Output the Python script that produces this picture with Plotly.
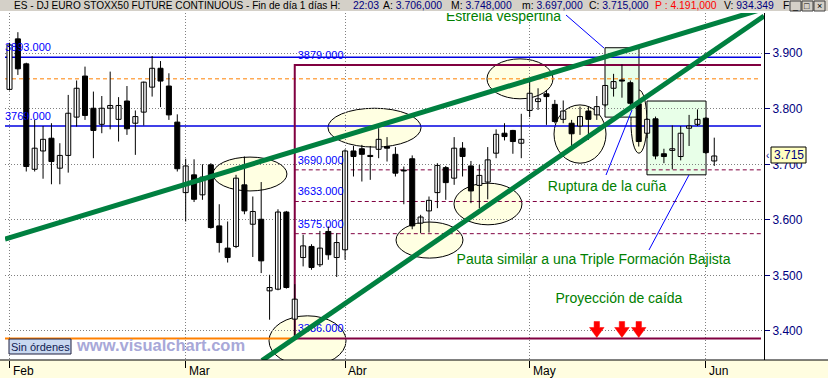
import plotly.graph_objects as go
import pandas as pd

# ---------------- data ----------------
holidays = ["2008-03-21", "2008-03-24", "2008-05-01"]
dates = [d for d in pd.bdate_range("2008-02-01", "2008-06-03")
         if d.strftime("%Y-%m-%d") not in holidays]
month_names = {2: "Feb", 3: "Mar", 4: "Abr", 5: "May", 6: "Jun"}

opens = [3835, 3926, 3881, 3691, 3724, 3747, 3693, 3716, 3785, 3859,
         3801, 3772, 3801, 3781, 3814, 3774, 3794, 3839, 3873, 3841,
         3776, 3649, 3681, 3645, 3699, 3589, 3549, 3552, 3663, 3592,
         3601, 3472, 3475, 3614, 3421, 3532, 3552, 3519, 3579, 3532,
         3546, 3724, 3728, 3716, 3727, 3732, 3718, 3689, 3710, 3594,
         3616, 3649, 3694, 3675, 3729, 3697, 3662, 3668, 3720, 3756,
         3761, 3738, 3797, 3813, 3827, 3808, 3781, 3774, 3769, 3796,
         3789, 3807, 3837, 3852, 3847, 3809, 3756, 3782, 3719, 3725,
         3714, 3765, 3772, 3783, 3706]
highs = [3919, 3938, 3883, 3780, 3769, 3774, 3738, 3825, 3851, 3876,
         3831, 3823, 3867, 3821, 3841, 3797, 3849, 3895, 3886, 3864,
         3790, 3710, 3709, 3700, 3702, 3628, 3597, 3681, 3714, 3642,
         3668, 3501, 3619, 3616, 3484, 3573, 3556, 3580, 3588, 3576,
         3727, 3733, 3735, 3733, 3765, 3749, 3731, 3696, 3716, 3609,
         3642, 3702, 3697, 3749, 3740, 3706, 3699, 3731, 3763, 3774,
         3762, 3791, 3853, 3837, 3834, 3816, 3815, 3780, 3804, 3804,
         3823, 3843, 3863, 3880, 3851, 3811, 3783, 3786, 3728, 3770,
         3769, 3789, 3799, 3785, 3748]
lows = [3833, 3861, 3687, 3687, 3674, 3664, 3664, 3685, 3768, 3780,
        3711, 3756, 3763, 3741, 3753, 3717, 3770, 3822, 3803, 3780,
        3687, 3597, 3632, 3636, 3584, 3541, 3523, 3549, 3610, 3533,
        3504, 3420, 3473, 3476, 3386, 3516, 3510, 3515, 3528, 3497,
        3528, 3678, 3669, 3672, 3711, 3705, 3678, 3628, 3583, 3576,
        3577, 3621, 3636, 3663, 3678, 3630, 3621, 3637, 3711, 3743,
        3719, 3711, 3785, 3798, 3771, 3774, 3774, 3726, 3753, 3744,
        3780, 3804, 3822, 3820, 3801, 3732, 3747, 3709, 3702, 3691,
        3707, 3733, 3769, 3719, 3697]
closes = [3915, 3872, 3696, 3729, 3745, 3705, 3716, 3792, 3837, 3788,
          3761, 3801, 3806, 3806, 3764, 3786, 3848, 3873, 3850, 3789,
          3692, 3697, 3637, 3677, 3586, 3559, 3532, 3675, 3616, 3615,
          3526, 3478, 3614, 3478, 3457, 3553, 3514, 3549, 3537, 3559,
          3724, 3714, 3718, 3714, 3745, 3729, 3684, 3688, 3589, 3605,
          3635, 3698, 3667, 3729, 3714, 3652, 3680, 3708, 3754, 3750,
          3741, 3745, 3828, 3818, 3822, 3777, 3796, 3755, 3786, 3781,
          3804, 3842, 3849, 3850, 3810, 3741, 3781, 3715, 3714, 3728,
          3756, 3769, 3781, 3721, 3715]
volume_txt = "934.349"
pivot_txt = 4191
time_txt = "22:03"

y_ticks = [3400, 3500, 3600, 3700, 3800, 3900]

blue_levels = [3893, 3769]
orange_dashed_level = 3854
box_top, box_bottom = 3879, 3386
box_start = 34
fib_levels = [3690, 3633, 3575]

# wedge trend lines (bar index, price)
upper_line = [(-0.536, 3565.4), (89.93, 3980.5)]
lower_line = [(30.1, 3346.5), (89.93, 3967.2)]

ellipses = [(24.26, 33.07, 3652, 3713), (37.96, 49.05, 3731, 3801),
            (56.91, 64.78, 3818, 3890), (64.9, 71.1, 3702, 3807),
            (74.07, 75.98, 3720, 3834), (46.07, 54.05, 3531, 3596),
            (52.98, 61.08, 3591, 3666), (30.93, 40.11, 3337, 3427)]
green_boxes = [(70.98, 75.03, 3785, 3910), (75.98, 83.02, 3681, 3814)]
pointer_lines = [((66.33, 3969.0), (70.86, 3909.5)),
                 ((71.1, 3680.7), (74.2, 3797.8)),
                 ((76.22, 3545.6), (80.99, 3680.7))]
arrow_bars = [70, 73, 75]
arrow_tip = 3388

notes = [("Estrella vespertina", 58.88, 3964.5),
         ("Ruptura de la cuña", 71.22, 3659.1),
         ("Pauta similar a una Triple Formación Bajista", 69.61, 3525.8),
         ("Proyección de caída", 72.64, 3457.3)]

# ---------------- figure ----------------
n = len(opens)
idx = list(range(n))
X_RANGE = [-0.536, 89.93]
Y_RANGE = [3347.4, 3972.6]
L, R, T, B, W, H = 5, 64, 13, 18, 828, 378
PW, PH = W - L - R, H - T - B


def px(p):
    return (p - L) / PW


def py(p):
    return (H - B - p) / PH


def es(v, dec=3):
    s = f"{v:,.{dec}f}"
    return s.replace(",", "X").replace(".", ",").replace("X", ".")


GREEN = "#008000"
NAVY = "#000080"
FONT = "Liberation Sans, Arial, sans-serif"

fig = go.Figure()

# level labels (drawn beneath candles)
lab_x = [X_RANGE[0]] * len(blue_levels) + [box_start + 0.35] * (2 + len(fib_levels))
lab_levels = blue_levels + [box_top] + fib_levels + [box_bottom]
fig.add_trace(go.Scatter(x=lab_x, y=[v + 16 for v in lab_levels],
                         text=[f"{v}.000" for v in lab_levels], mode="text",
                         textposition="middle right",
                         textfont=dict(color="#0000FF", size=11, family=FONT),
                         hoverinfo="skip", showlegend=False))

# wicks
wx, wy = [], []
for i in idx:
    wx += [i, i, None]
    wy += [lows[i], highs[i], None]
fig.add_trace(go.Scatter(x=wx, y=wy, mode="lines",
                         line=dict(color="black", width=1),
                         hoverinfo="skip", showlegend=False))

# bodies
for up in (True, False):
    sel = [i for i in idx if (closes[i] >= opens[i]) == up]
    fig.add_trace(go.Bar(
        x=sel,
        y=[max(abs(closes[i] - opens[i]), 1.5) for i in sel],
        base=[min(opens[i], closes[i]) for i in sel],
        width=0.6,
        marker=dict(color="white" if up else "black",
                    line=dict(color="black", width=1)),
        hoverinfo="skip", showlegend=False))

# green notes (clipped to plot area)
fig.add_trace(go.Scatter(x=[t[1] for t in notes], y=[t[2] for t in notes],
                         text=[t[0] for t in notes], mode="text",
                         textposition="middle center", cliponaxis=True,
                         textfont=dict(color=GREEN, size=14, family=FONT),
                         hoverinfo="skip", showlegend=False))

shapes = []
for x0, x1, y0, y1 in ellipses:
    shapes.append(dict(type="circle", xref="x", yref="y", x0=x0, x1=x1, y0=y0, y1=y1,
                       fillcolor="#FFFFE2", line=dict(color="black", width=1), layer="below"))
for x0, x1, y0, y1 in green_boxes:
    shapes.append(dict(type="rect", xref="x", yref="y", x0=x0, x1=x1, y0=y0, y1=y1,
                       fillcolor="#E8FFE8", line=dict(color="black", width=1), layer="below"))
right_end = 89.57
for lv in blue_levels:
    shapes.append(dict(type="line", xref="x", yref="y", x0=X_RANGE[0], x1=right_end, y0=lv, y1=lv,
                       line=dict(color="#0000E0", width=1.5), layer="between"))
shapes.append(dict(type="line", xref="x", yref="y", x0=X_RANGE[0], x1=right_end,
                   y0=orange_dashed_level, y1=orange_dashed_level,
                   line=dict(color="#FF8000", width=1, dash="4px,3px"), layer="between"))
for lv in fib_levels:
    shapes.append(dict(type="line", xref="x", yref="y", x0=box_start, x1=right_end, y0=lv, y1=lv,
                       line=dict(color="#800040", width=1, dash="4px,3px"), layer="between"))
shapes.append(dict(type="line", xref="x", yref="y", x0=X_RANGE[0], x1=box_start,
                   y0=box_bottom, y1=box_bottom, line=dict(color="#FF8000", width=2), layer="between"))
shapes.append(dict(type="path", xref="x", yref="y",
                   path=f"M {right_end},{box_top} L {box_start},{box_top} L {box_start},{box_bottom} L {right_end},{box_bottom}",
                   line=dict(color="#800040", width=2), layer="between"))
for (a, b) in pointer_lines:
    shapes.append(dict(type="line", xref="x", yref="y", x0=a[0], y0=a[1], x1=b[0], y1=b[1],
                       line=dict(color="#0000FF", width=1), layer="above"))
for ln in (upper_line, lower_line):
    shapes.append(dict(type="line", xref="x", yref="y", x0=ln[0][0], y0=ln[0][1],
                       x1=ln[1][0], y1=ln[1][1], line=dict(color="#008040", width=5), layer="above"))
for b in arrow_bars:
    shapes.append(dict(type="path", xref="x", yref="y", xsizemode="pixel", ysizemode="pixel",
                       xanchor=b, yanchor=arrow_tip,
                       path="M -2.7,16 L 2.7,16 L 2.7,10 L 7.3,10 L 0,0 L -7.3,10 L -2.7,10 Z",
                       fillcolor="#FF0000", line=dict(color="#FF0000", width=0.5), layer="above"))
shapes.append(dict(type="rect", xref="paper", yref="paper", x0=px(0), x1=px(W), y0=py(11), y1=py(0),
                   fillcolor="#D4D0C8", line=dict(width=0), layer="below"))
shapes.append(dict(type="rect", xref="paper", yref="paper", x0=px(0), x1=px(W), y0=py(H), y1=py(360),
                   fillcolor="#FFFDE0", line=dict(width=0), layer="below"))
shapes.append(dict(type="line", xref="paper", yref="paper", x0=px(0), x1=px(W), y0=py(360), y1=py(360),
                   line=dict(color="black", width=1), layer="above"))
btn_x = [790, 802, 814]
for bx0 in btn_x:
    shapes.append(dict(type="rect", xref="paper", yref="paper", x0=px(bx0), x1=px(bx0 + 11),
                       y0=py(11), y1=py(1), fillcolor="#D4D0C8",
                       line=dict(color="#404040", width=1), layer="above"))
shapes.append(dict(type="rect", xref="paper", yref="paper", x0=px(9), x1=px(71), y0=py(354), y1=py(339),
                   fillcolor="#C8D8F0", line=dict(color="#202040", width=1), layer="above"))
shapes.append(dict(type="rect", xref="paper", yref="paper", x0=px(771), x1=px(806), y0=py(163), y1=py(147),
                   fillcolor="#FFFFC0", line=dict(color="black", width=1), layer="above"))


def ann(x, y, text, size, color, xanchor="center", bold=False):
    return dict(x=px(x), y=py(y), xref="paper", yref="paper", xanchor=xanchor, yanchor="middle",
                text=f"<b>{text}</b>" if bold else text, showarrow=False,
                font=dict(size=size, color=color, family=FONT))


annotations = []
month_idx = [i for i in idx if i == 0 or dates[i].month != dates[i - 1].month]
for i in month_idx:
    annotations.append(dict(x=i, y=py(370.5), xref="x", yref="paper", xanchor="left", yanchor="middle",
                            xshift=1, text=month_names[dates[i].month], showarrow=False,
                            font=dict(size=12, color="black", family=FONT)))

nv = lambda s: f'<span style="color:{NAVY}">{s}</span>'
head = "ES - DJ EURO STOXX50 FUTURE CONTINUOUS - Fin de día 1 días H:"
annotations.append(ann(12, 5.5, head, 10.1, "black", xanchor="left"))
title_parts = [(351, nv(time_txt)),
               (381, "A: " + nv(es(opens[-1]))),
               (449, "M: " + nv(es(highs[-1]))),
               (520, "m: " + nv(es(lows[-1]))),
               (587, "C: " + nv(es(closes[-1]))),
               (653, '<span style="color:#FF0000">P : ' + es(pivot_txt) + "</span>"),
               (722, "V: " + nv(volume_txt)),
               (781, "F")]
for x, t in title_parts:
    annotations.append(ann(x, 5.5, t, 10.4, "black", xanchor="left"))
for gx, g in zip(btn_x, ("_", "□", "×")):
    annotations.append(ann(gx + 5.5, 6, g, 9, "black"))
annotations.append(ann(40, 346.5, "Sin órdenes", 11, "#102050"))
annotations.append(ann(160, 344.5, "www.visualchart.com", 16.5, "#A8A8D8", bold=True))
annotations.append(ann(788.5, 155, es(closes[-1], 0), 12, NAVY))
annotations.append(ann(767.5, 155, "‹", 10, NAVY))

fig.update_layout(
    width=W, height=H, autosize=False,
    margin=dict(l=L, r=R, t=T, b=B, pad=0),
    paper_bgcolor="white", plot_bgcolor="white",
    barmode="overlay", showlegend=False,
    shapes=shapes, annotations=annotations,
    xaxis=dict(range=X_RANGE, tickvals=month_idx, showticklabels=False,
               ticks="outside", ticklen=7, tickcolor="black", tickwidth=1,
               showgrid=True, gridcolor="#808080", griddash="1px,2px", gridwidth=1,
               showline=False, zeroline=False, fixedrange=True),
    yaxis=dict(range=Y_RANGE, side="right", tickvals=y_ticks, ticktext=[es(v, 0) for v in y_ticks],
               ticks="outside", ticklen=5, tickcolor=NAVY, tickwidth=1,
               tickfont=dict(size=12, color=NAVY, family=FONT),
               showgrid=True, gridcolor="#808080", griddash="1px,2px", gridwidth=1,
               showline=True, linecolor="black", linewidth=1, zeroline=False, fixedrange=True),
)

fig.write_html("out.html")
